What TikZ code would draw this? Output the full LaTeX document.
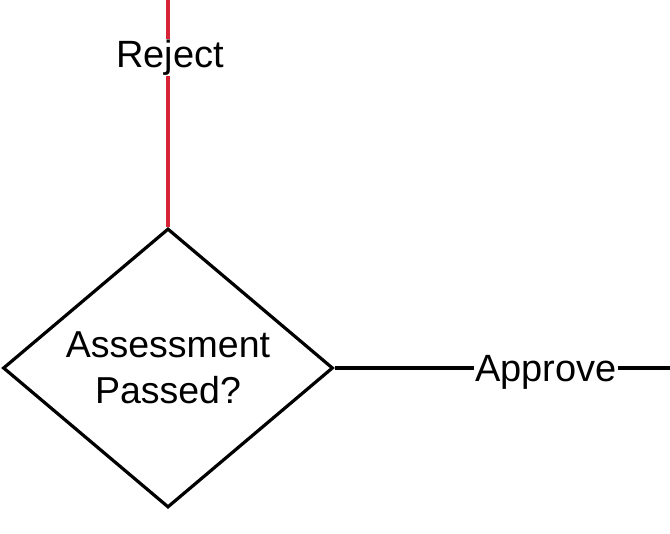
\documentclass[tikz,border=0pt]{standalone}
\usepackage{fontspec}
\setmainfont{Liberation Sans}
\usetikzlibrary{shapes.geometric}
\definecolor{rejred}{RGB}{214,36,52}

\begin{document}
\begin{tikzpicture}[x=1pt,y=-1pt,
		lbl/.style={fill=white,inner sep=1pt,font=\fontsize{38}{46}\selectfont}]
		\useasboundingbox (0,0) rectangle (670,534);
		\node[diamond,draw,line width=3.2pt,minimum width=330pt,minimum height=279pt,inner sep=0pt,
			align=center,font=\fontsize{37.5}{46}\selectfont] (D) at (168,368) {Assessment\\Passed?};
		\coordinate (T) at (168,0);
		\coordinate (E) at (670,368);
		\draw[rejred,line width=3.2pt] (T)--(D.north) node[lbl,text=black,pos=0.24,yshift=-3pt,xshift=2pt] (Rej) {Reject};
		\draw[line width=3.2pt] (D.east)--(E) node[lbl,pos=0.63,yshift=-4pt] (App) {Approve};
\end{tikzpicture}
\end{document}
